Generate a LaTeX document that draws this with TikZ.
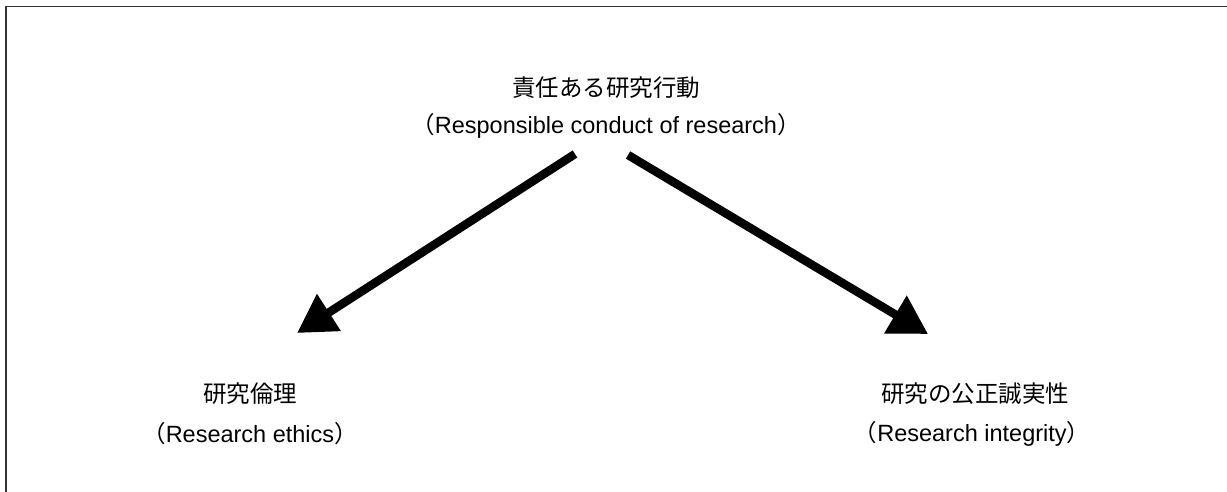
\documentclass[tikz,border=0pt]{standalone}
\usepackage{fontspec}
\setmainfont{Liberation Sans}
\newfontfamily\jp{Noto Sans CJK JP}
\usetikzlibrary{arrows.meta}
\newcommand{\lp}{{\jp （}}
\newcommand{\rp}{{\jp ）}}
\tikzset{
  frameline/.style={line width=1.5pt, draw=black!80},
  jplabel/.style={inner sep=0pt, font=\jp\fontsize{23.5}{28}\selectfont, text=black},
  enlabel/.style={inner sep=0pt, font=\fontsize{23.5}{28}\selectfont, text=black},
  bigarrow/.style={line width=8.5pt, -{Triangle[length=38pt,width=42pt]}, draw=black}
}
\begin{document}
\begin{tikzpicture}[x=1pt,y=-1pt]
\useasboundingbox (0,0) rectangle (1227,492);
\draw[frameline] (6,499) -- (6,6.5) -- (1234,6.5);
\node[jplabel] (topjp) at (606,88) {責任ある研究行動};
\node[enlabel] (topen) at (606,126) {\lp Responsible conduct of research\rp};
\node[jplabel] (leftjp) at (250,394) {研究倫理};
\node[enlabel] (leften) at (250,434) {\lp Research ethics\rp};
\node[jplabel] (rightjp) at (975,394) {研究の公正誠実性};
\node[enlabel] (righten) at (972,434) {\lp Research integrity\rp};
\coordinate (s1) at (575,154);
\coordinate (e1) at (297,333);
\coordinate (s2) at (628,155);
\coordinate (e2) at (928,334);
\draw[bigarrow] (s1) -- (e1);
\draw[bigarrow] (s2) -- (e2);
\end{tikzpicture}
\end{document}
